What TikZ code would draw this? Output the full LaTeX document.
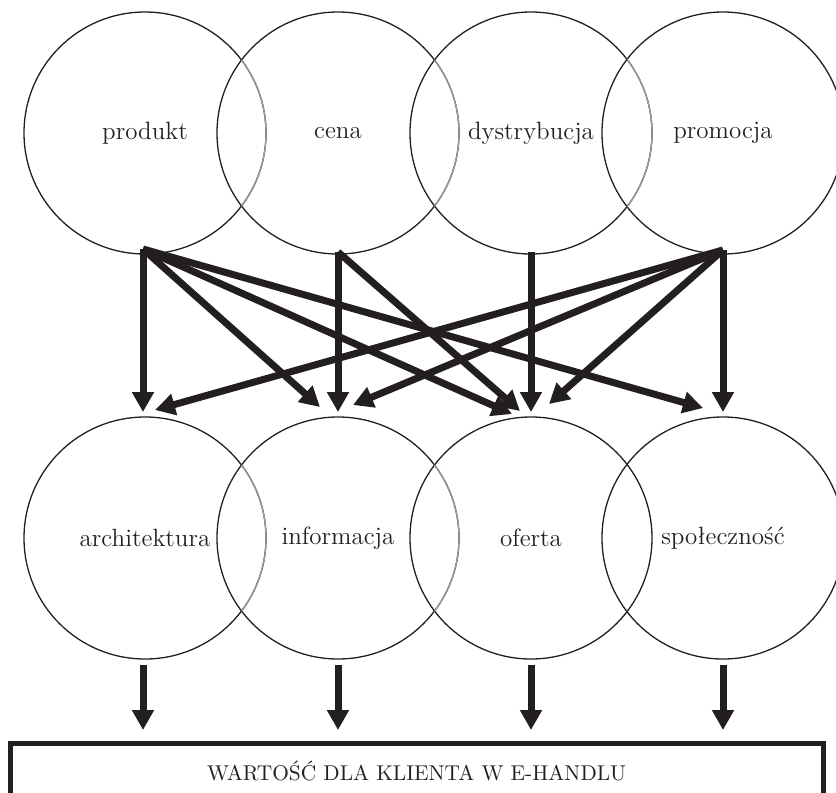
\documentclass[tikz,border=0pt]{standalone}
\usepackage{fontspec}
\usepackage{xcolor}
\usetikzlibrary{arrows.meta,calc}
\definecolor{ink}{HTML}{231F20}

\begin{document}
\begin{tikzpicture}[x=0.5pt,y=-0.5pt,
	krag/.style={circle,draw=ink,line width=0.65pt,minimum size=121pt,inner sep=0pt,outer sep=0pt,text=ink,font=\fontsize{12.5}{15}\selectfont},
	strz/.style={draw=ink,line width=3.5pt,-{Triangle[width=10.5pt,length=10pt]}},
	szary/.style={draw=ink!45,line width=0.65pt}]
			\useasboundingbox (0,0) rectangle (836,793);
			\clip (0,0) rectangle (836,793);
			\node[krag] (prod) at (145,133) {produkt};
			\node[krag] (cena) at (338,133) {cena};
			\node[krag] (dyst) at (531,133) {dystrybucja};
			\node[krag] (prom) at (723,133) {promocja};
			\node[krag] (arch) at (145,538) {architektura};
			\node[krag] (info) at (338,538) {informacja};
			\node[krag] (ofer) at (531,538) {oferta};
			\node[krag] (spol) at (723,538) {społeczność};
			\node[draw=ink,line width=2.5pt,minimum width=406.25pt,minimum height=28pt,anchor=north,outer sep=0pt,text=ink,font=\fontsize{10.7}{13}\selectfont] (wart) at (416.75,743) {WARTOŚĆ DLA KLIENTA W E-HANDLU};
			\begin{scope}
				\clip (cena.center) circle (121);
				\draw[szary] (prod.center) circle (121);
			\end{scope}
			\begin{scope}
				\clip (dyst.center) circle (121);
				\draw[szary] (cena.center) circle (121);
			\end{scope}
			\begin{scope}
				\clip (prom.center) circle (121);
				\draw[szary] (dyst.center) circle (121);
			\end{scope}
			\begin{scope}
				\clip (info.center) circle (121);
				\draw[szary] (arch.center) circle (121);
			\end{scope}
			\begin{scope}
				\clip (ofer.center) circle (121);
				\draw[szary] (info.center) circle (121);
			\end{scope}
			\draw[strz] ([xshift=-1pt,yshift=2.5pt]prod.south) -- ([xshift=-1pt,yshift=2.5pt]arch.north);
			\draw[strz] ([xshift=-1pt,yshift=2.5pt]prod.south) -- ([xshift=-9pt,yshift=5pt]info.north);
			\draw[strz] ([xshift=-1pt,yshift=2.5pt]prod.south) -- ([xshift=-9.5pt,yshift=1.5pt]ofer.north);
			\draw[strz] ([xshift=-1pt,yshift=2.5pt]prod.south) -- ([xshift=-10pt,yshift=4.5pt]spol.north);
			\draw[strz] ([yshift=1pt]cena.south) -- ([yshift=2.5pt]info.north);
			\draw[strz] ([yshift=1pt]cena.south) -- ([xshift=-5.5pt,yshift=3pt]ofer.north);
			\draw[strz] ([yshift=1pt]dyst.south) -- ([yshift=2.5pt]ofer.north);
			\draw[strz] ([yshift=2pt]prom.south) -- ([xshift=5pt,yshift=3.5pt]arch.north);
			\draw[strz] ([yshift=2pt]prom.south) -- ([xshift=7.5pt,yshift=6pt]info.north);
			\draw[strz] ([yshift=2pt]prom.south) -- ([xshift=9pt,yshift=6.5pt]ofer.north);
			\draw[strz] ([yshift=2pt]prom.south) -- ([yshift=2.5pt]spol.north);
			\draw[strz] ($(arch.south)+(-1pt,-3pt)$) -- ($(arch.south |- wart.north)+(-1pt,6.5pt)$);
			\draw[strz] ($(info.south)+(0,-3pt)$) -- ($(info.south |- wart.north)+(0,6.5pt)$);
			\draw[strz] ($(ofer.south)+(0,-3pt)$) -- ($(ofer.south |- wart.north)+(0,6.5pt)$);
			\draw[strz] ($(spol.south)+(0,-3pt)$) -- ($(spol.south |- wart.north)+(0,6.5pt)$);
		\end{tikzpicture}
\end{document}
